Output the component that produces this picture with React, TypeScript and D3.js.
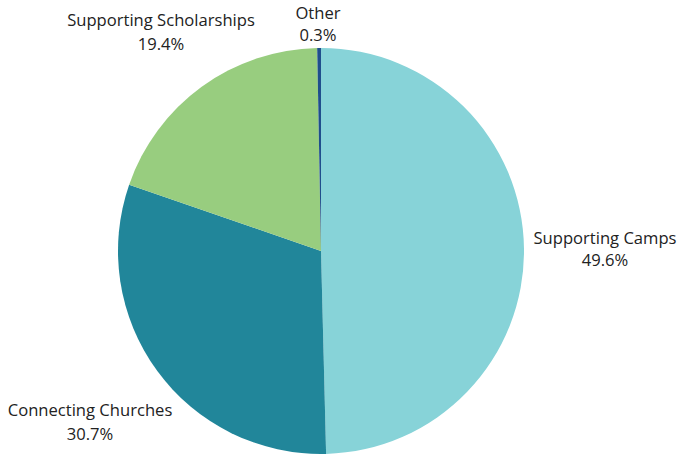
import React from "react";
import * as d3 from "d3";

const categories = ["Supporting Camps", "Connecting Churches", "Supporting Scholarships", "Other"];
const values = [49.6, 30.7, 19.4, 0.3];
const colors = ["#87D3D8", "#21869A", "#98CD7F", "#1F4E8C"];
const labelPos: [number, number, number][] = [
  [605, 244, 266],
  [90, 416, 440],
  [161, 26, 50],
  [318, 19, 41],
];

export default function App() {
  const W = 678, H = 454;
  const cx = 321, cy = 251, r = 203;
  const pie = d3.pie<number>().sort(null).value((d) => d);
  const arcs = pie(values);
  const arc = d3.arc<d3.PieArcDatum<number>>().innerRadius(0).outerRadius(r);
  return (
    <svg width={W} height={H} style={{ position: "absolute", left: 0, top: 0 }}>
      <rect width={W} height={H} fill="#fff" />
      <g transform={`translate(${cx},${cy})`}>
        {arcs.map((a, i) => (
          <path key={i} d={arc(a) || ""} fill={colors[i]} />
        ))}
      </g>
      {categories.map((c, i) => (
        <text key={c} textAnchor="middle" fontFamily="Open Sans" fontSize={16.6} fill="#222">
          <tspan x={labelPos[i][0]} y={labelPos[i][1]}>{c}</tspan>
          <tspan x={labelPos[i][0]} y={labelPos[i][2]}>{values[i].toFixed(1)}%</tspan>
        </text>
      ))}
    </svg>
  );
}
